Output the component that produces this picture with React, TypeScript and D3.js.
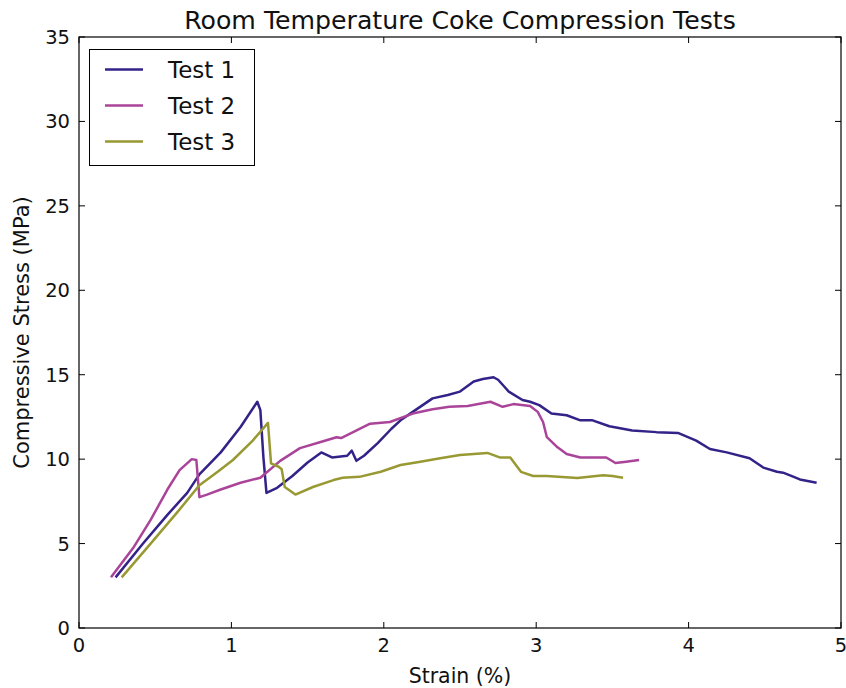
import React, { useEffect, useRef } from 'react';
import * as d3 from 'd3';

// strain (%) / stress (MPa)
const test1Strain = [0.24, 0.42, 0.58, 0.71, 0.79, 0.93, 1.06, 1.17, 1.19, 1.21, 1.23, 1.30, 1.40, 1.50, 1.59, 1.66, 1.76, 1.79, 1.82, 1.87, 1.96, 2.05, 2.11, 2.19, 2.32, 2.42, 2.50, 2.59, 2.65, 2.72, 2.75, 2.79, 2.82, 2.91, 2.96, 3.02, 3.10, 3.20, 3.29, 3.37, 3.48, 3.63, 3.79, 3.93, 4.05, 4.14, 4.25, 4.40, 4.49, 4.58, 4.62, 4.69, 4.73, 4.84];
const test1Stress = [3.0, 5.0, 6.7, 8.0, 9.1, 10.4, 11.9, 13.4, 12.9, 10.1, 8.0, 8.3, 9.0, 9.8, 10.4, 10.1, 10.2, 10.5, 9.9, 10.2, 10.95, 11.8, 12.3, 12.8, 13.6, 13.8, 14.0, 14.6, 14.75, 14.85, 14.7, 14.3, 14.0, 13.5, 13.4, 13.2, 12.7, 12.6, 12.3, 12.3, 11.95, 11.7, 11.6, 11.55, 11.1, 10.6, 10.4, 10.05, 9.5, 9.25, 9.2, 8.95, 8.8, 8.6];

const test2Strain = [0.21, 0.36, 0.47, 0.58, 0.66, 0.74, 0.77, 0.79, 0.84, 0.93, 1.06, 1.19, 1.32, 1.45, 1.58, 1.69, 1.72, 1.91, 2.04, 2.19, 2.32, 2.43, 2.55, 2.70, 2.78, 2.85, 2.96, 3.01, 3.045, 3.07, 3.14, 3.20, 3.29, 3.46, 3.52, 3.59, 3.675];
const test2Stress = [3.0, 4.8, 6.4, 8.2, 9.35, 10.0, 9.95, 7.75, 7.9, 8.2, 8.6, 8.9, 9.9, 10.65, 11.0, 11.3, 11.25, 12.1, 12.2, 12.7, 12.95, 13.1, 13.15, 13.4, 13.1, 13.26, 13.15, 12.8, 12.2, 11.3, 10.7, 10.3, 10.1, 10.1, 9.77, 9.85, 9.95];

const test3Strain = [0.28, 0.47, 0.64, 0.79, 0.91, 1.01, 1.14, 1.24, 1.26, 1.31, 1.33, 1.35, 1.42, 1.535, 1.67, 1.73, 1.84, 1.98, 2.11, 2.24, 2.37, 2.50, 2.68, 2.76, 2.83, 2.90, 2.98, 3.07, 3.27, 3.44, 3.50, 3.57];
const test3Stress = [3.0, 5.0, 6.8, 8.45, 9.25, 9.95, 11.1, 12.15, 9.75, 9.55, 9.4, 8.35, 7.9, 8.35, 8.76, 8.9, 8.95, 9.25, 9.65, 9.85, 10.05, 10.25, 10.37, 10.1, 10.1, 9.25, 9.0, 9.0, 8.88, 9.05, 9.0, 8.9];

const seriesNames = ['Test 1', 'Test 2', 'Test 3'];
const seriesColors = ['#332288', '#aa4499', '#999933'];
const xTicks = [0, 1, 2, 3, 4, 5];
const yTicks = [0, 5, 10, 15, 20, 25, 30, 35];

const W = 846;
const H = 688;
const margin = { top: 37, right: 5, bottom: 60, left: 79 };
const font = 'DejaVu Sans, sans-serif';

export default function App() {
  const ref = useRef<SVGSVGElement>(null);

  useEffect(() => {
    const svg = d3.select(ref.current);
    svg.selectAll('*').remove();

    const x = d3.scaleLinear().domain([0, 5]).range([margin.left, W - margin.right]);
    const y = d3.scaleLinear().domain([0, 35]).range([H - margin.bottom, margin.top]);

    const series = [
      d3.zip(test1Strain, test1Stress),
      d3.zip(test2Strain, test2Stress),
      d3.zip(test3Strain, test3Stress),
    ];

    const line = d3.line<number[]>().x(d => x(d[0])).y(d => y(d[1]));

    const plot = svg.append('g');
    series.forEach((s, i) => {
      plot.append('path')
        .attr('d', line(s))
        .attr('fill', 'none')
        .attr('stroke', seriesColors[i])
        .attr('stroke-width', 2.5)
        .attr('stroke-linejoin', 'round');
    });

    // axes, ticks inward on all sides
    const tick = 6;
    const [x0, x1] = x.range();
    const [y0, y1] = y.range();
    const ax = svg.append('g').attr('stroke', '#000').attr('stroke-width', 1);
    xTicks.forEach(t => {
      ax.append('line').attr('x1', x(t)).attr('x2', x(t)).attr('y1', y0).attr('y2', y0 - tick);
      ax.append('line').attr('x1', x(t)).attr('x2', x(t)).attr('y1', y1).attr('y2', y1 + tick);
    });
    yTicks.forEach(t => {
      ax.append('line').attr('x1', x0).attr('x2', x0 + tick).attr('y1', y(t)).attr('y2', y(t));
      ax.append('line').attr('x1', x1).attr('x2', x1 - tick).attr('y1', y(t)).attr('y2', y(t));
    });
    svg.append('rect')
      .attr('x', x0).attr('y', y1).attr('width', x1 - x0).attr('height', y0 - y1)
      .attr('fill', 'none').attr('stroke', '#000').attr('stroke-width', 1.2);

    const labels = svg.append('g').attr('font-family', font).attr('fill', '#111');
    xTicks.forEach(t => {
      labels.append('text').attr('x', x(t)).attr('y', y0 + 24)
        .attr('text-anchor', 'middle').attr('font-size', 19.5).text(t);
    });
    yTicks.forEach(t => {
      labels.append('text').attr('x', x0 - 9).attr('y', y(t) + 7)
        .attr('text-anchor', 'end').attr('font-size', 19.5).text(t);
    });
    labels.append('text').attr('x', (x0 + x1) / 2).attr('y', 683)
      .attr('text-anchor', 'middle').attr('font-size', 20.5).text('Strain (%)');
    labels.append('text')
      .attr('transform', `translate(29,${(y0 + y1) / 2}) rotate(-90)`)
      .attr('text-anchor', 'middle').attr('font-size', 21).text('Compressive Stress (MPa)');
    labels.append('text').attr('x', (x0 + x1) / 2).attr('y', 29)
      .attr('text-anchor', 'middle').attr('font-size', 25.2).text('Room Temperature Coke Compression Tests');

    // legend
    const lg = svg.append('g');
    lg.append('rect').attr('x', 89.5).attr('y', 49.5).attr('width', 165).attr('height', 116)
      .attr('fill', '#fff').attr('stroke', '#000').attr('stroke-width', 1);
    seriesNames.forEach((name, i) => {
      const cy = 69.5 + i * 36;
      lg.append('line').attr('x1', 105).attr('x2', 143).attr('y1', cy).attr('y2', cy)
        .attr('stroke', seriesColors[i]).attr('stroke-width', 2.5);
      lg.append('text').attr('x', 168).attr('y', cy + 8.5).attr('font-family', font)
        .attr('font-size', 23).attr('fill', '#111').text(name);
    });
  }, []);

  return (
    <svg
      ref={ref}
      width={W}
      height={H}
      style={{ display: 'block', position: 'absolute', left: 0, top: 0 }}
    />
  );
}
